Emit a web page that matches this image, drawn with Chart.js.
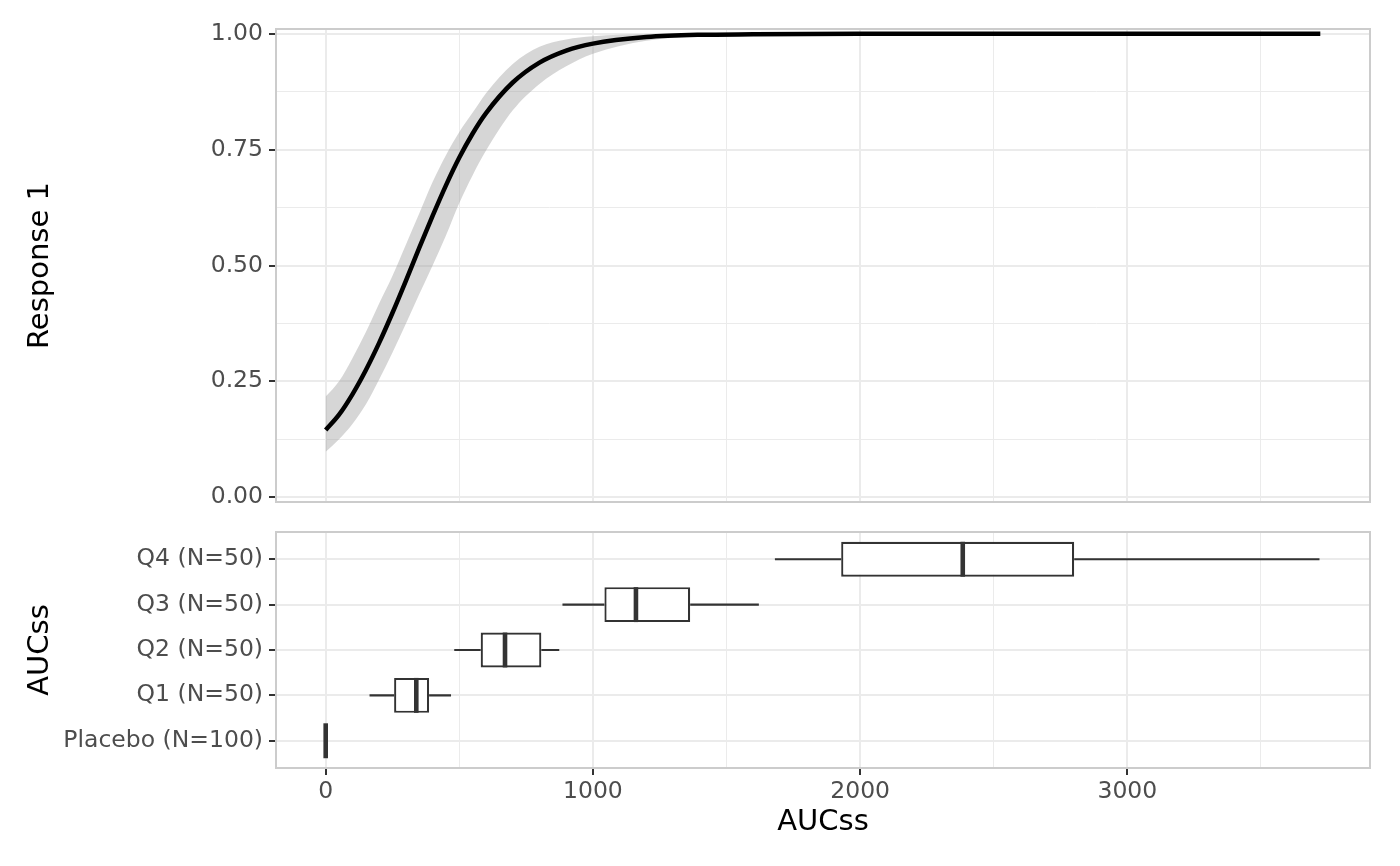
<!DOCTYPE html>
<html>
<head>
<meta charset="utf-8">
<script src="https://cdn.jsdelivr.net/npm/chart.js@4.4.1/dist/chart.umd.min.js"></script>
<style>
  html, body { margin: 0; padding: 0; background: #ffffff; }
  #wrap { position: relative; width: 1400px; height: 866px; }
  canvas { position: absolute; left: 0; }
  #topChart { top: 0; width: 1400px; height: 520px; }
  #boxChart { top: 520px; width: 1400px; height: 346px; }
</style>
</head>
<body>
<div id="wrap">
  <canvas id="topChart" width="1400" height="520"></canvas>
  <canvas id="boxChart" width="1400" height="346"></canvas>
</div>
<script>
// 曲线：AUCss 取值点与拟合概率、置信带
const aucGrid  = [0, 50, 100, 150, 200, 250, 300, 350, 400, 450, 500, 550, 600, 700, 800, 900, 1000, 1200, 1400, 1600, 2000, 2500, 3000, 3500, 3722]
const respFit  = [0.145, 0.178, 0.222, 0.274, 0.333, 0.398, 0.467, 0.538, 0.607, 0.673, 0.733, 0.785, 0.829, 0.895, 0.938, 0.964, 0.979, 0.993, 0.998, 0.999, 1, 1, 1, 1, 1]
const respLow  = [0.098, 0.125, 0.158, 0.200, 0.254, 0.312, 0.374, 0.438, 0.500, 0.565, 0.635, 0.695, 0.748, 0.835, 0.892, 0.930, 0.957, 0.985, 0.995, 0.998, 1, 1, 1, 1, 1]
const respHigh = [0.217, 0.250, 0.300, 0.356, 0.418, 0.478, 0.545, 0.612, 0.680, 0.738, 0.788, 0.830, 0.872, 0.935, 0.972, 0.988, 0.995, 0.999, 1, 1, 1, 1, 1, 1, 1]

// 坐标轴刻度
const xRange = [-186, 3908]
const xMajor = [0, 1000, 2000, 3000]
const xMinor = [500, 1500, 2500, 3500]
const yMajor = [0, 0.25, 0.5, 0.75, 1]
const yMinor = [0.125, 0.375, 0.625, 0.875]

// 箱线图：自下而上
const groups   = ['Placebo (N=100)', 'Q1 (N=50)', 'Q2 (N=50)', 'Q3 (N=50)', 'Q4 (N=50)']
const boxLow   = [0, 164, 481, 886, 1681]
const boxQ1    = [0, 256, 580, 1043, 1929]
const boxMed   = [0, 339, 671, 1161, 2384]
const boxQ3    = [0, 387, 807, 1364, 2801]
const boxHigh  = [0, 469, 874, 1621, 3719]

const GRID = '#EBEBEB'
const INK = '#333333'
const LABEL = '#4D4D4D'
const AXIS_W = 276
const TICK_FONT = { size: 23.5 }
const TITLE_FONT = { size: 29 }

Chart.defaults.font.family = 'DejaVu Sans'
Chart.defaults.animation = false

// 面板边框
const panelBorder = {
  id: 'panelBorder',
  afterDraw(chart) {
    const { ctx, chartArea: a } = chart
    ctx.save()
    ctx.strokeStyle = '#CCCCCC'
    ctx.lineWidth = 2
    ctx.strokeRect(a.left, a.top, a.right - a.left, a.bottom - a.top)
    ctx.restore()
  }
}

// 须线与中位数
const boxWhiskers = {
  id: 'boxWhiskers',
  afterDatasetsDraw(chart) {
    const { ctx, scales: { x, y } } = chart
    const bars = chart.getDatasetMeta(0).data
    ctx.save()
    ctx.strokeStyle = INK
    groups.forEach((g, i) => {
      const yc = y.getPixelForValue(i)
      const half = bars[i].height / 2
      ctx.lineWidth = 2.2
      ctx.beginPath()
      ctx.moveTo(x.getPixelForValue(boxLow[i]), yc)
      ctx.lineTo(x.getPixelForValue(boxQ1[i]), yc)
      ctx.moveTo(x.getPixelForValue(boxQ3[i]), yc)
      ctx.lineTo(x.getPixelForValue(boxHigh[i]), yc)
      ctx.stroke()

      const xm = x.getPixelForValue(boxMed[i])
      ctx.lineWidth = 4.6
      ctx.beginPath()
      ctx.moveTo(xm, yc - half)
      ctx.lineTo(xm, yc + half)
      ctx.stroke()
    })
    ctx.restore()
  }
}

const setTicks = values => scale => {
  scale.ticks = values.slice().sort((a, b) => a - b).map(v => ({ value: v }))
}
const gridWidth = major => ctx => (ctx.tick && major.includes(ctx.tick.value) ? 2 : 1)
const tickColor = major => ctx => (ctx.tick && major.includes(ctx.tick.value) ? INK : 'rgba(0,0,0,0)')
const pts = ys => aucGrid.map((x, i) => ({ x, y: ys[i] }))

// 上图：响应曲线（数据集 0 最后绘制，位于最上层）
new Chart(document.getElementById('topChart'), {
  type: 'line',
  data: {
    datasets: [
      {
        data: pts(respFit),
        borderColor: '#000000',
        borderWidth: 4.5,
        pointRadius: 0,
        fill: false,
        cubicInterpolationMode: 'monotone'
      },
      {
        data: pts(respLow),
        borderColor: 'rgba(0,0,0,0)',
        borderWidth: 0,
        pointRadius: 0,
        fill: false,
        cubicInterpolationMode: 'monotone'
      },
      {
        data: pts(respHigh),
        borderColor: 'rgba(0,0,0,0)',
        borderWidth: 0,
        pointRadius: 0,
        fill: '-1',
        backgroundColor: 'rgba(153,153,153,0.4)',
        cubicInterpolationMode: 'monotone'
      }
    ]
  },
  options: {
    responsive: false,
    layout: { padding: { top: 29, right: 30, bottom: 18, left: 0 } },
    plugins: { legend: { display: false }, tooltip: { enabled: false } },
    scales: {
      x: {
        type: 'linear',
        min: xRange[0],
        max: xRange[1],
        afterBuildTicks: setTicks([...xMajor, ...xMinor]),
        afterFit: s => { s.height = 0; s.paddingLeft = 0; s.paddingRight = 0 },
        grid: { color: GRID, lineWidth: gridWidth(xMajor), drawTicks: false },
        border: { display: false },
        ticks: { display: false }
      },
      y: {
        type: 'linear',
        min: -0.0105,
        max: 1.0105,
        afterBuildTicks: setTicks([...yMajor, ...yMinor]),
        afterFit: s => { s.width = AXIS_W; s.paddingTop = 0; s.paddingBottom = 0 },
        grid: { color: GRID, lineWidth: gridWidth(yMajor), tickLength: 7, tickColor: tickColor(yMajor), tickWidth: 2 },
        border: { display: false },
        ticks: {
          callback: v => (yMajor.includes(v) ? v.toFixed(2) : ''),
          color: LABEL,
          font: TICK_FONT,
          padding: 6,
          autoSkip: false
        },
        title: { display: true, text: 'Response 1', color: '#000000', font: TITLE_FONT, padding: { top: 23, bottom: 0 } }
      }
    }
  },
  plugins: [panelBorder]
})

// 下图：分组箱线图
new Chart(document.getElementById('boxChart'), {
  type: 'bar',
  data: {
    datasets: [{
      data: groups.map((g, i) => ({ y: i, x: [boxQ1[i], boxQ3[i]] })),
      backgroundColor: '#FFFFFF',
      borderColor: INK,
      borderWidth: 2.2,
      borderSkipped: false,
      barPercentage: 0.77,
      categoryPercentage: 1
    }]
  },
  options: {
    responsive: false,
    indexAxis: 'y',
    layout: { padding: { top: 12, right: 30, bottom: 0, left: 0 } },
    plugins: { legend: { display: false }, tooltip: { enabled: false } },
    scales: {
      x: {
        type: 'linear',
        min: xRange[0],
        max: xRange[1],
        afterBuildTicks: setTicks([...xMajor, ...xMinor]),
        afterFit: s => { s.height = 98; s.paddingLeft = 0; s.paddingRight = 0 },
        grid: { color: GRID, lineWidth: gridWidth(xMajor), tickLength: 7, tickColor: tickColor(xMajor), tickWidth: 2 },
        border: { display: false },
        ticks: {
          callback: v => (xMajor.includes(v) ? String(v) : ''),
          color: LABEL,
          font: TICK_FONT,
          padding: 3,
          autoSkip: false,
          maxRotation: 0
        },
        title: { display: true, text: 'AUCss', color: '#000000', font: TITLE_FONT, padding: { top: 0, bottom: 26 } }
      },
      y: {
        type: 'linear',
        min: -0.6,
        max: 4.6,
        offset: false,
        afterBuildTicks: setTicks(groups.map((g, i) => i)),
        afterFit: s => { s.width = AXIS_W; s.paddingTop = 0; s.paddingBottom = 0 },
        grid: { color: GRID, lineWidth: 2, offset: false, tickLength: 7, tickColor: INK, tickWidth: 2 },
        border: { display: false },
        ticks: {
          callback: v => groups[v],
          color: LABEL,
          font: TICK_FONT,
          padding: 6,
          autoSkip: false
        },
        title: { display: true, text: 'AUCss', color: '#000000', font: TITLE_FONT, padding: { top: 23, bottom: 0 } }
      }
    }
  },
  plugins: [panelBorder, boxWhiskers]
})
</script>
</body>
</html>
